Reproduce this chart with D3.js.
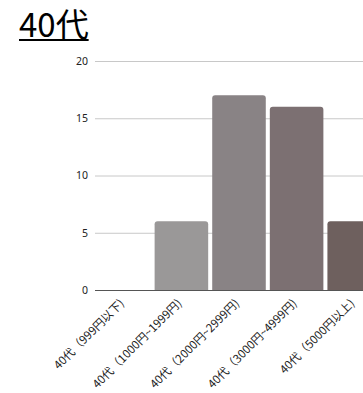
<!DOCTYPE html>
<html>
<head>
<meta charset="utf-8">
<script src="https://cdn.jsdelivr.net/npm/d3@7"></script>
<style>
  html, body { margin: 0; padding: 0; background: #fff; overflow: hidden; }
  svg { display: block; }
</style>
</head>
<body>
<svg id="chart" width="363" height="393"></svg>
<script>
const title = "40代";
const categories = [
  "40代（999円以下)",
  "40代（1000円~1999円)",
  "40代（2000円~2999円)",
  "40代（3000円~4999円)",
  "40代（5000円以上)"
];
const counts = [0, 6, 17, 16, 6];
const barColors = ["#a3a1a1", "#9a9898", "#898385", "#7c7072", "#6e605e"];
const yTicks = [0, 5, 10, 15, 20];

const svg = d3.select("#chart");
const margin = { left: 95, top: 61, bottom: 290, right: 383 };

// Title with underline
const t = svg.append("text")
  .attr("x", 19).attr("y", 37)
  .attr("font-family", "Noto Sans CJK JP, Noto Sans, sans-serif")
  .attr("font-size", 33)
  .attr("fill", "#000")
  .text(title);
const tb = t.node().getBBox();
svg.append("rect")
  .attr("x", tb.x).attr("y", 39)
  .attr("width", tb.width).attr("height", 2)
  .attr("fill", "#000");

const x = d3.scaleBand()
  .domain(categories)
  .range([margin.left, margin.right])
  .paddingInner(0.07)
  .paddingOuter(0.035);

const y = d3.scaleLinear()
  .domain([0, 20])
  .range([margin.bottom, margin.top]);

// Grid lines
svg.append("g")
  .selectAll("line")
  .data(yTicks.filter(d => d > 0))
  .join("line")
  .attr("x1", margin.left).attr("x2", 363)
  .attr("y1", d => y(d) + 0.5).attr("y2", d => y(d) + 0.5)
  .attr("stroke", "#c8c8c8").attr("stroke-width", 1);

// Y axis labels
const yAxis = d3.axisLeft(y).tickValues(yTicks).tickSize(0).tickPadding(7);
const gy = svg.append("g").attr("transform", `translate(${margin.left},0)`).call(yAxis);
gy.select(".domain").remove();
gy.selectAll("text")
  .attr("font-family", "Noto Sans, sans-serif")
  .attr("font-size", 10.5)
  .attr("fill", "#222");

// Bars with rounded top corners
function barPath(x0, w, yTop, yBase, r) {
  const h = yBase - yTop;
  if (h <= 0) return "";
  r = Math.min(r, h, w / 2);
  return `M${x0},${yBase}V${yTop + r}Q${x0},${yTop} ${x0 + r},${yTop}` +
         `H${x0 + w - r}Q${x0 + w},${yTop} ${x0 + w},${yTop + r}V${yBase}Z`;
}
svg.append("g")
  .selectAll("path")
  .data(categories.map((c, i) => ({ c, v: counts[i], color: barColors[i] })))
  .join("path")
  .attr("d", d => barPath(x(d.c), x.bandwidth(), y(d.v), y(0), 3))
  .attr("fill", d => d.color);

// Baseline
svg.append("line")
  .attr("x1", margin.left).attr("x2", 363)
  .attr("y1", y(0) + 0.5).attr("y2", y(0) + 0.5)
  .attr("stroke", "#555").attr("stroke-width", 1);

// X axis labels, rotated 45° and anchored at their end under each band
const gx = svg.append("g").attr("transform", `translate(0,${margin.bottom})`);
gx.selectAll("text")
  .data(categories)
  .join("text")
  .attr("transform", d => `translate(${x(d) + x.bandwidth() / 2 + 1},${14}) rotate(-45)`)
  .attr("text-anchor", "end")
  .attr("font-family", "Noto Sans CJK JP, sans-serif")
  .attr("font-size", 11.5)
  .attr("fill", "#222")
  .text(d => d);
</script>
</body>
</html>
